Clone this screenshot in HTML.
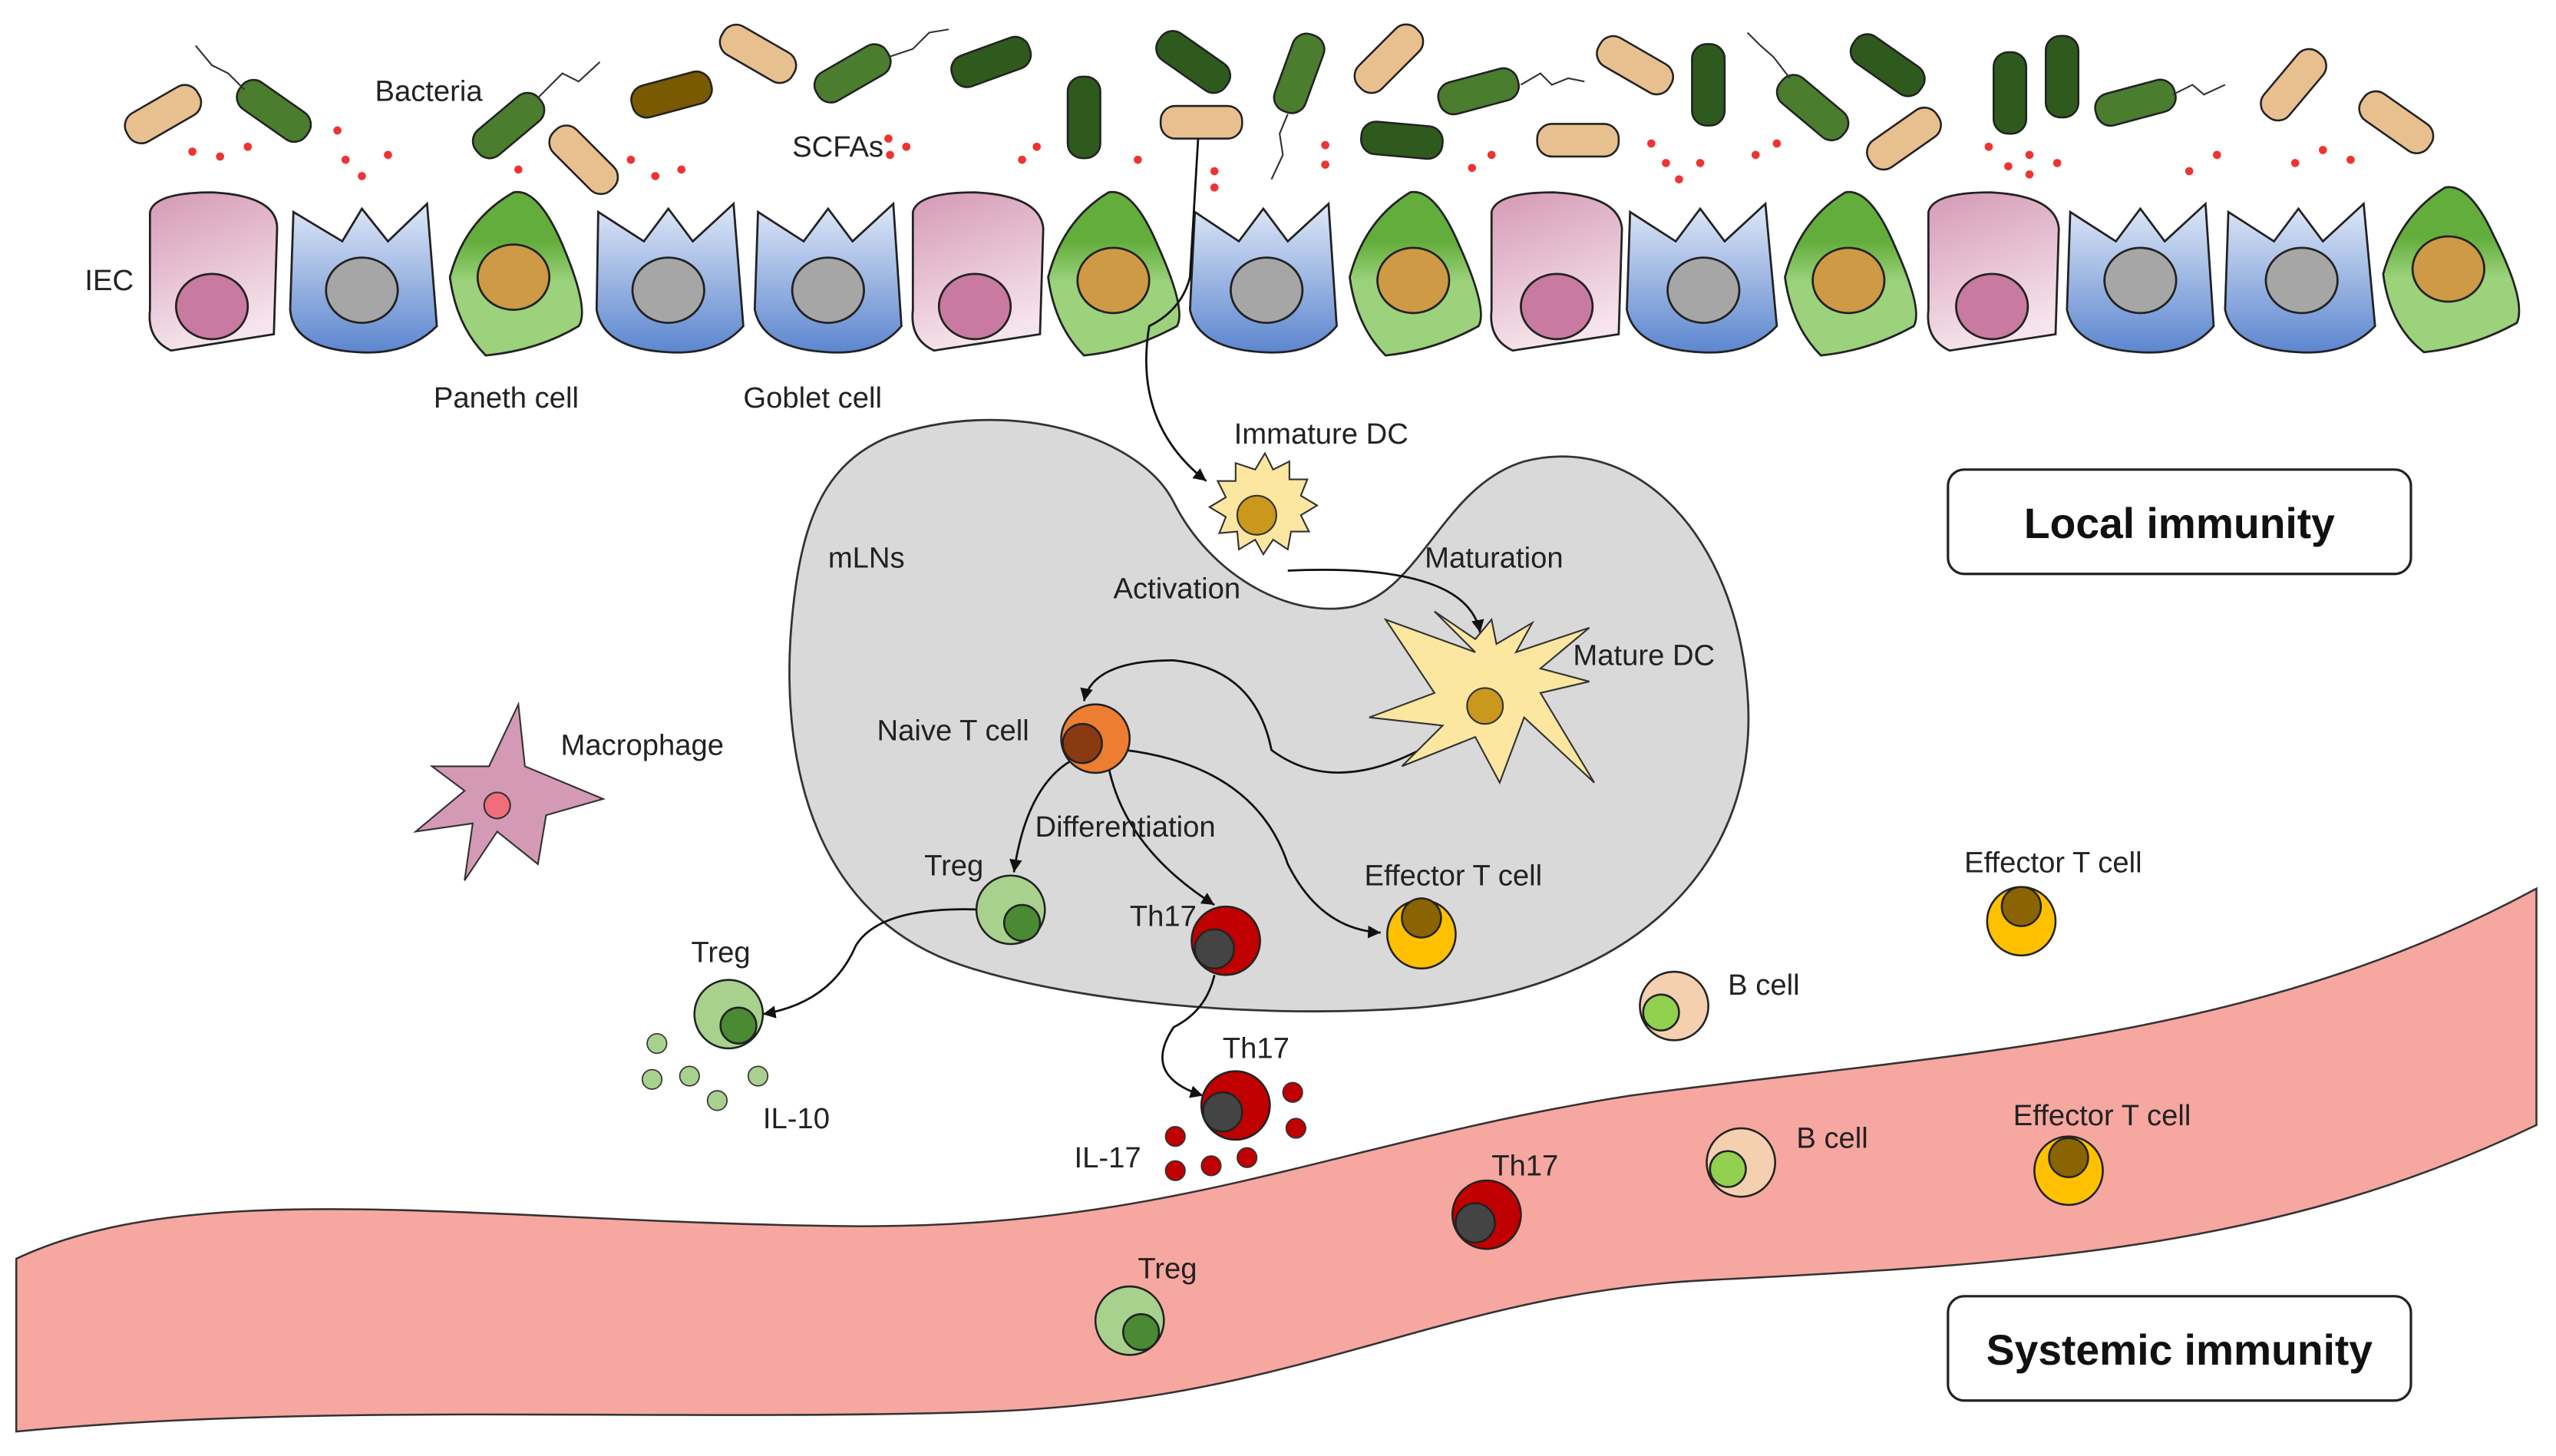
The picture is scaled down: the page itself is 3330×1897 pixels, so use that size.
<!DOCTYPE html>
<html><head><meta charset="utf-8"><style>
html,body{margin:0;padding:0;background:#fff}
svg{display:block}
text{font-family:"Liberation Sans",sans-serif;fill:#222}
</style></head><body>
<svg width="3330" height="1897" viewBox="0 0 1568 893" preserveAspectRatio="none" xmlns="http://www.w3.org/2000/svg">
<defs>
<linearGradient id="pk" x1="0" y1="0" x2="0.3" y2="1"><stop offset="0" stop-color="#d599b5"/><stop offset="1" stop-color="#f6e4ec"/></linearGradient>
<linearGradient id="bl" x1="0" y1="0" x2="0" y2="1"><stop offset="0" stop-color="#dfe8f7"/><stop offset="1" stop-color="#5c86cf"/></linearGradient>
<linearGradient id="gr" x1="0" y1="0" x2="0" y2="1"><stop offset="0.3" stop-color="#62ad3b"/><stop offset="0.55" stop-color="#9bd27b"/><stop offset="1" stop-color="#9bd27b"/></linearGradient>
<marker id="ar" markerWidth="8" markerHeight="8" refX="6" refY="3" orient="auto"><path d="M0,0 L6,3 L0,6 Z" fill="#111"/></marker>
</defs>

<!-- blood vessel -->
<path d="M10,772 C120,720 300,750 520,752 C720,754 820,700 1000,672 C1200,645 1380,640 1556,545 L1556,690 C1400,765 1250,775 1050,785 C880,793 800,860 600,866 C400,872 200,860 10,878 Z" fill="#f6a7a0" stroke="#333" stroke-width="1.2"/>

<!-- mLNs -->
<path d="M545,268 C620,242 700,268 720,308 C742,352 790,380 830,372 C872,362 885,298 935,283 C1005,265 1065,330 1072,425 C1080,525 1010,605 870,618 C760,626 650,612 590,592 C500,562 480,470 485,390 C490,320 505,285 545,268 Z" fill="#d9d9d9" stroke="#333" stroke-width="1.3"/>

<!-- epithelial cells -->
<g stroke="#222" stroke-width="1.3">
<g id="cells"></g>
<path d="M92,130 Q95,118 130,118 Q170,120 170,140 L168,205 L105,215 Q90,208 92,190 Z" fill="url(#pk)"/><ellipse cx="130" cy="188" rx="22" ry="20" fill="#c87aa0"/>
<path d="M180,130 L210,148 L222,128 L238,148 L262,125 L268,200 Q250,218 220,216 Q180,214 178,190 Z" fill="url(#bl)"/><ellipse cx="222" cy="178" rx="22" ry="20" fill="#a6a6a6"/>
<path d="M315,118 Q330,115 345,150 Q362,190 355,200 Q330,215 298,218 Q280,200 276,170 Q285,135 315,118 Z" fill="url(#gr)"/><ellipse cx="315" cy="170" rx="22" ry="20" fill="#cf9a45"/>
<path d="M367,130 L395,148 L410,128 L425,148 L450,125 L456,200 Q440,218 410,216 Q370,214 366,190 Z" fill="url(#bl)"/><ellipse cx="410" cy="178" rx="22" ry="20" fill="#a6a6a6"/>
<path d="M465,130 L493,148 L508,128 L523,148 L548,125 L553,200 Q538,218 508,216 Q468,214 463,190 Z" fill="url(#bl)"/><ellipse cx="508" cy="178" rx="22" ry="20" fill="#a6a6a6"/>
<path d="M560,130 Q563,118 598,118 Q638,120 640,140 L638,205 L573,215 Q558,208 560,190 Z" fill="url(#pk)"/><ellipse cx="598" cy="188" rx="22" ry="20" fill="#c87aa0"/>
<path d="M680,118 Q695,115 710,150 Q728,190 722,200 Q695,215 665,218 Q647,200 643,170 Q652,135 680,118 Z" fill="url(#gr)"/><ellipse cx="683" cy="172" rx="22" ry="20" fill="#cf9a45"/>
<path d="M733,130 L760,148 L775,128 L790,148 L815,125 L820,200 Q805,218 775,216 Q735,214 730,190 Z" fill="url(#bl)"/><ellipse cx="777" cy="178" rx="22" ry="20" fill="#a6a6a6"/>
<path d="M865,118 Q880,115 895,150 Q913,190 907,200 Q880,215 850,218 Q832,200 828,170 Q837,135 865,118 Z" fill="url(#gr)"/><ellipse cx="867" cy="172" rx="22" ry="20" fill="#cf9a45"/>
<path d="M915,130 Q918,118 953,118 Q993,120 995,140 L993,205 L928,215 Q913,208 915,190 Z" fill="url(#pk)"/><ellipse cx="955" cy="188" rx="22" ry="20" fill="#c87aa0"/>
<path d="M1000,130 L1028,148 L1043,128 L1058,148 L1083,125 L1090,200 Q1073,218 1043,216 Q1003,214 998,190 Z" fill="url(#bl)"/><ellipse cx="1045" cy="178" rx="22" ry="20" fill="#a6a6a6"/>
<path d="M1132,118 Q1147,115 1162,150 Q1180,190 1174,200 Q1147,215 1117,218 Q1099,200 1095,170 Q1104,135 1132,118 Z" fill="url(#gr)"/><ellipse cx="1134" cy="172" rx="22" ry="20" fill="#cf9a45"/>
<path d="M1183,130 Q1186,118 1221,118 Q1261,120 1263,140 L1261,205 L1196,215 Q1181,208 1183,190 Z" fill="url(#pk)"/><ellipse cx="1222" cy="188" rx="22" ry="20" fill="#c87aa0"/>
<path d="M1270,130 L1298,148 L1313,128 L1328,148 L1353,125 L1358,200 Q1343,218 1313,216 Q1273,214 1268,190 Z" fill="url(#bl)"/><ellipse cx="1313" cy="172" rx="22" ry="20" fill="#a6a6a6"/>
<path d="M1367,130 L1395,148 L1410,128 L1425,148 L1450,125 L1457,200 Q1440,218 1410,216 Q1370,214 1365,190 Z" fill="url(#bl)"/><ellipse cx="1412" cy="172" rx="22" ry="20" fill="#a6a6a6"/>
<path d="M1500,115 Q1515,112 1530,145 Q1550,185 1544,198 Q1517,213 1487,216 Q1466,200 1462,168 Q1472,132 1500,115 Z" fill="url(#gr)"/><ellipse cx="1502" cy="165" rx="22" ry="20" fill="#cf9a45"/>
</g>

<!-- bacteria -->
<g stroke="#222" stroke-width="1.2">
<rect x="-25" y="-10" width="50" height="20" rx="9" fill="#e8c08f" transform="translate(100,70) rotate(-30)"/>
<rect x="-25" y="-10" width="50" height="20" rx="9" fill="#4a7d2e" transform="translate(168,68) rotate(35)"/>
<rect x="-25" y="-10" width="50" height="20" rx="9" fill="#4a7d2e" transform="translate(312,77) rotate(-40)"/>
<rect x="-25" y="-10" width="50" height="20" rx="9" fill="#e8c08f" transform="translate(358,98) rotate(45)"/>
<rect x="-25" y="-10" width="50" height="20" rx="9" fill="#7a5a00" transform="translate(412,58) rotate(-15)"/>
<rect x="-25" y="-10" width="50" height="20" rx="9" fill="#e8c08f" transform="translate(465,33) rotate(30)"/>
<rect x="-25" y="-10" width="50" height="20" rx="9" fill="#4a7d2e" transform="translate(523,45) rotate(-30)"/>
<rect x="-25" y="-10" width="50" height="20" rx="9" fill="#2f5a1e" transform="translate(608,38) rotate(-20)"/>
<rect x="-25" y="-10" width="50" height="20" rx="9" fill="#2f5a1e" transform="translate(665,72) rotate(90)"/>
<rect x="-25" y="-10" width="50" height="20" rx="9" fill="#2f5a1e" transform="translate(732,38) rotate(35)"/>
<rect x="-25" y="-10" width="50" height="20" rx="9" fill="#e8c08f" transform="translate(737,75)"/>
<rect x="-25" y="-10" width="50" height="20" rx="9" fill="#4a7d2e" transform="translate(797,45) rotate(-70)"/>
<rect x="-25" y="-10" width="50" height="20" rx="9" fill="#e8c08f" transform="translate(852,36) rotate(-45)"/>
<rect x="-25" y="-10" width="50" height="20" rx="9" fill="#4a7d2e" transform="translate(907,56) rotate(-15)"/>
<rect x="-25" y="-10" width="50" height="20" rx="9" fill="#2f5a1e" transform="translate(860,86) rotate(5)"/>
<rect x="-25" y="-10" width="50" height="20" rx="9" fill="#e8c08f" transform="translate(968,86)"/>
<rect x="-25" y="-10" width="50" height="20" rx="9" fill="#e8c08f" transform="translate(1003,40) rotate(30)"/>
<rect x="-25" y="-10" width="50" height="20" rx="9" fill="#2f5a1e" transform="translate(1048,52) rotate(90)"/>
<rect x="-25" y="-10" width="50" height="20" rx="9" fill="#4a7d2e" transform="translate(1112,66) rotate(40)"/>
<rect x="-25" y="-10" width="50" height="20" rx="9" fill="#2f5a1e" transform="translate(1158,40) rotate(35)"/>
<rect x="-25" y="-10" width="50" height="20" rx="9" fill="#e8c08f" transform="translate(1168,85) rotate(-35)"/>
<rect x="-25" y="-10" width="50" height="20" rx="9" fill="#2f5a1e" transform="translate(1233,57) rotate(90)"/>
<rect x="-25" y="-10" width="50" height="20" rx="9" fill="#2f5a1e" transform="translate(1265,47) rotate(90)"/>
<rect x="-25" y="-10" width="50" height="20" rx="9" fill="#4a7d2e" transform="translate(1310,63) rotate(-15)"/>
<rect x="-25" y="-10" width="50" height="20" rx="9" fill="#e8c08f" transform="translate(1407,52) rotate(-50)"/>
<rect x="-25" y="-10" width="50" height="20" rx="9" fill="#e8c08f" transform="translate(1470,75) rotate(35)"/>
</g>
<g fill="none" stroke="#333" stroke-width="1">
<path d="M150,55 L140,45 L130,40 L120,28"/><path d="M330,60 L345,45 L355,50 L368,38"/>
<path d="M545,35 L560,30 L570,20 L582,18"/><path d="M933,52 L945,45 L952,52 L962,48 L972,50"/>
<path d="M1098,48 L1088,35 L1080,28 L1072,20"/><path d="M1333,58 L1345,52 L1352,58 L1365,52"/>
<path d="M790,70 L785,82 L787,95 L780,110"/>
</g>
<g fill="#e33" id="dots">
<circle cx="118" cy="93" r="2.5"/><circle cx="135" cy="96" r="2.5"/><circle cx="152" cy="90" r="2.5"/>
<circle cx="207" cy="80" r="2.5"/><circle cx="212" cy="98" r="2.5"/><circle cx="222" cy="108" r="2.5"/><circle cx="238" cy="95" r="2.5"/>
<circle cx="318" cy="104" r="2.5"/><circle cx="387" cy="98" r="2.5"/><circle cx="402" cy="108" r="2.5"/><circle cx="418" cy="104" r="2.5"/>
<circle cx="545" cy="85" r="2.5"/><circle cx="556" cy="90" r="2.5"/><circle cx="546" cy="95" r="2.5"/>
<circle cx="627" cy="98" r="2.5"/><circle cx="636" cy="90" r="2.5"/><circle cx="698" cy="98" r="2.5"/>
<circle cx="745" cy="105" r="2.5"/><circle cx="745" cy="115" r="2.5"/><circle cx="813" cy="89" r="2.5"/><circle cx="813" cy="101" r="2.5"/>
<circle cx="903" cy="103" r="2.5"/><circle cx="915" cy="95" r="2.5"/><circle cx="1013" cy="88" r="2.5"/><circle cx="1022" cy="100" r="2.5"/><circle cx="1030" cy="110" r="2.5"/><circle cx="1043" cy="100" r="2.5"/>
<circle cx="1077" cy="95" r="2.5"/><circle cx="1090" cy="88" r="2.5"/><circle cx="1220" cy="90" r="2.5"/><circle cx="1232" cy="102" r="2.5"/><circle cx="1245" cy="95" r="2.5"/><circle cx="1245" cy="107" r="2.5"/><circle cx="1262" cy="100" r="2.5"/>
<circle cx="1343" cy="105" r="2.5"/><circle cx="1360" cy="95" r="2.5"/><circle cx="1408" cy="100" r="2.5"/><circle cx="1425" cy="92" r="2.5"/><circle cx="1442" cy="98" r="2.5"/>
</g>

<!-- arrows -->
<g fill="none" stroke="#111" stroke-width="1.3">
<path d="M735,85 L730,170 Q725,190 705,200 Q695,260 740,295" marker-end="url(#ar)"/>
<path d="M790,350 Q900,345 908,388" marker-end="url(#ar)"/>
<path d="M880,455 Q820,490 780,460 Q770,410 720,405 Q670,405 665,430" marker-end="url(#ar)"/>
<path d="M660,465 Q630,480 622,535" marker-end="url(#ar)"/>
<path d="M680,470 Q690,520 745,555" marker-end="url(#ar)"/>
<path d="M690,460 Q770,470 790,530 Q810,570 847,572" marker-end="url(#ar)"/>
<path d="M605,558 Q540,555 525,580 Q510,615 468,622" marker-end="url(#ar)"/>
<path d="M745,598 Q740,620 720,630 Q700,660 738,672" marker-end="url(#ar)"/>
</g>

<!-- DCs -->
<path d="M770,288 l6,-10 l5,10 l10,-5 l0,11 l11,0 l-4,10 l10,6 l-10,6 l5,10 l-11,0 l-2,11 l-9,-6 l-6,9 l-5,-9 l-10,6 l-1,-11 l-11,1 l4,-10 l-10,-6 l10,-6 l-5,-10 l11,0 l0,-11 Z" fill="#fde7a0" stroke="#333" stroke-width="1"/>
<circle cx="771" cy="316" r="12" fill="#c9981c" stroke="#333"/>
<path d="M905,400 L880,375 L905,392 L915,380 L918,395 L940,382 L930,400 L975,385 L945,410 L975,418 L945,425 L978,480 L935,440 L920,480 L905,452 L860,470 L885,445 L840,440 L880,425 L850,380 Z" fill="#fde7a0" stroke="#333" stroke-width="1"/>
<circle cx="911" cy="433" r="11" fill="#c9981c" stroke="#333"/>

<!-- Macrophage -->
<path d="M318,432 L322,470 L370,490 L335,500 L330,530 L305,510 L285,540 L290,505 L255,510 L285,485 L265,470 L300,470 Z" fill="#d49ab5" stroke="#333"/>
<circle cx="305" cy="494" r="8" fill="#f26d7a" stroke="#333"/>

<!-- cells -->
<g stroke="#222" stroke-width="1.2">
<circle cx="672" cy="453" r="21" fill="#ed7d31"/><circle cx="664" cy="456" r="12" fill="#8a3a10"/>
<circle cx="620" cy="558" r="21" fill="#a9d18e"/><circle cx="627" cy="566" r="11" fill="#4a8a32"/>
<circle cx="752" cy="577" r="21" fill="#c00000"/><circle cx="745" cy="582" r="12" fill="#444"/>
<circle cx="872" cy="573" r="21" fill="#ffc000"/><circle cx="872" cy="563" r="12" fill="#8a6400"/>
<circle cx="447" cy="622" r="21" fill="#a9d18e"/><circle cx="453" cy="629" r="11" fill="#4a8a32"/>
<circle cx="758" cy="678" r="21" fill="#c00000"/><circle cx="750" cy="682" r="12" fill="#444"/>
<circle cx="1240" cy="565" r="21" fill="#ffc000"/><circle cx="1240" cy="556" r="12" fill="#8a6400"/>
<circle cx="1027" cy="617" r="21" fill="#f4d0b0"/><circle cx="1019" cy="621" r="11" fill="#92d050"/>
<circle cx="1068" cy="713" r="21" fill="#f4d0b0"/><circle cx="1060" cy="717" r="11" fill="#92d050"/>
<circle cx="912" cy="745" r="21" fill="#c00000"/><circle cx="905" cy="750" r="12" fill="#444"/>
<circle cx="1269" cy="718" r="21" fill="#ffc000"/><circle cx="1269" cy="710" r="12" fill="#8a6400"/>
<circle cx="693" cy="810" r="21" fill="#a9d18e"/><circle cx="700" cy="817" r="11" fill="#4a8a32"/>
</g>
<g fill="#a9d18e" stroke="#333" stroke-width="0.8">
<circle cx="403" cy="640" r="6"/><circle cx="423" cy="660" r="6"/><circle cx="400" cy="662" r="6"/><circle cx="440" cy="675" r="6"/><circle cx="465" cy="660" r="6"/>
</g>
<g fill="#c00000" stroke="#333" stroke-width="0.8">
<circle cx="793" cy="670" r="6"/><circle cx="795" cy="692" r="6"/><circle cx="765" cy="710" r="6"/><circle cx="743" cy="715" r="6"/><circle cx="721" cy="697" r="6"/><circle cx="721" cy="718" r="6"/>
</g>

<!-- boxes -->
<rect x="1195" y="288" width="284" height="64" rx="10" fill="#fff" stroke="#222" stroke-width="1.5"/>
<text x="1337" y="330" font-size="26" font-weight="bold" text-anchor="middle" style="fill:#111">Local immunity</text>
<rect x="1195" y="795" width="284" height="64" rx="10" fill="#fff" stroke="#222" stroke-width="1.5"/>
<text x="1337" y="837" font-size="26" font-weight="bold" text-anchor="middle" style="fill:#111">Systemic immunity</text>

<!-- labels -->
<g font-size="18">
<text x="230" y="62">Bacteria</text><text x="486" y="96">SCFAs</text><text x="52" y="178">IEC</text>
<text x="266" y="250">Paneth cell</text><text x="456" y="250">Goblet cell</text>
<text x="757" y="272">Immature DC</text><text x="508" y="348">mLNs</text><text x="683" y="367">Activation</text>
<text x="874" y="348">Maturation</text><text x="965" y="408">Mature DC</text><text x="344" y="463">Macrophage</text>
<text x="538" y="454">Naive T cell</text><text x="635" y="513">Differentiation</text><text x="567" y="537">Treg</text>
<text x="693" y="568">Th17</text><text x="837" y="543">Effector T cell</text><text x="1205" y="535">Effector T cell</text>
<text x="424" y="590">Treg</text><text x="1060" y="610">B cell</text><text x="750" y="649">Th17</text>
<text x="468" y="692">IL-10</text><text x="659" y="716">IL-17</text><text x="1102" y="704">B cell</text>
<text x="1235" y="690">Effector T cell</text><text x="915" y="721">Th17</text><text x="698" y="784">Treg</text>
</g>
</svg>
</body></html>
